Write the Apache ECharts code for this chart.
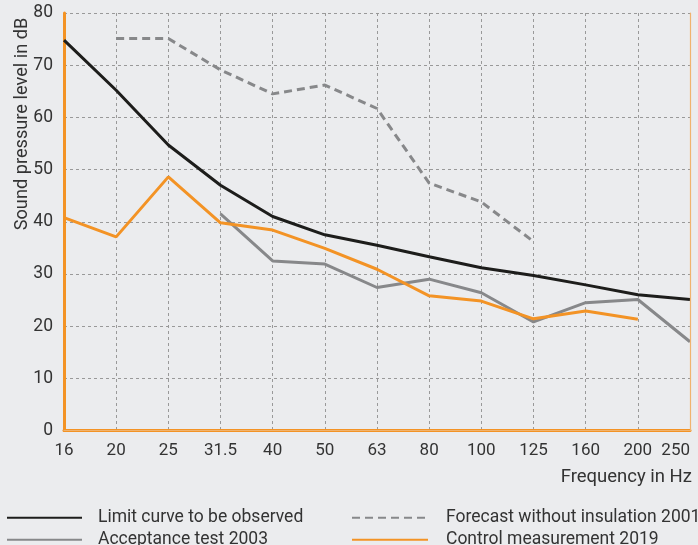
<!DOCTYPE html>
<html><head><meta charset="utf-8">
<script src="https://cdn.jsdelivr.net/npm/echarts@6/dist/echarts.min.js"></script>
<style>html,body{margin:0;padding:0;background:#ebecee;}#c{width:698px;height:545px;}</style>
</head><body><div id="c"></div>
<script>
const categories = ['16','20','25','31.5','40','50','63','80','100','125','160','200','250'];
const limitCurve = [74.8, 65.2, 54.7, 47.0, 41.0, 37.5, 35.5, 33.3, 31.2, 29.7, 27.9, 26.0, 25.1];
const forecast2001 = [null, 75.1, 75.1, 69.1, 64.5, 66.2, 61.7, 47.4, 43.8, 36.2, null, null, null];
const acceptance2003 = [null, null, null, 41.5, 32.5, 31.9, 27.4, 29.0, 26.4, 20.8, 24.5, 25.1, 17.0];
const control2019 = [40.8, 37.1, 48.6, 39.8, 38.4, 34.9, 30.9, 25.8, 24.8, 21.4, 22.9, 21.3, null];
const yTicks = {min: 0, max: 80, interval: 10};

const FONT = 'Roboto';
const TXT = '#333333';
const ORANGE = '#f39325';

const chart = echarts.init(document.getElementById('c'), null, {renderer: 'canvas'});
chart.setOption({
  backgroundColor: '#ebecee',
  animation: false,
  textStyle: {fontFamily: FONT},
  grid: {left: 64, right: 8, top: 13, bottom: 114.5, show: false},
  xAxis: [{
    type: 'category', data: categories, boundaryGap: false,
    axisLine: {show: true, lineStyle: {color: ORANGE, width: 3}},
    axisTick: {show: false},
    axisLabel: {color: TXT, fontSize: 17, fontFamily: FONT, margin: 12, interval: 0, alignMaxLabel: 'right'},
    splitLine: {show: true, interval: 0, lineStyle: {color: '#999999', type: [3, 3], width: 1}},
    z: 3
  }, {
    type: 'category', data: categories, boundaryGap: false, position: 'top',
    axisLine: {show: true, lineStyle: {color: '#f0b36e', width: 1.2}},
    axisTick: {show: false}, axisLabel: {show: false}, splitLine: {show: false}, z: 10
  }],
  yAxis: [{
    type: 'value', min: yTicks.min, max: yTicks.max, interval: yTicks.interval,
    axisLine: {show: true, lineStyle: {color: ORANGE, width: 3}},
    axisTick: {show: false},
    axisLabel: {color: TXT, fontSize: 17.5, fontFamily: FONT, margin: 11},
    splitLine: {show: true, lineStyle: {color: '#999999', type: [3, 3], width: 1}},
    z: 4
  }, {
    type: 'value', min: yTicks.min, max: yTicks.max, interval: yTicks.interval, position: 'right',
    axisLine: {show: true, lineStyle: {color: '#f0b36e', width: 1.2}},
    axisTick: {show: false}, axisLabel: {show: false}, splitLine: {show: false}, z: 10
  }],
  legend: [{
    orient: 'vertical', left: 6, top: 508.7, height: 60, padding: 0, itemWidth: 75, itemHeight: 14, itemGap: 4,
    itemStyle: {opacity: 0},
    data: ['Limit curve to be observed', 'Acceptance test 2003'],
    textStyle: {color: TXT, fontSize: 17.5, lineHeight: 16, fontFamily: FONT, padding: [0, 0, 0, 11]}
  }, {
    orient: 'vertical', left: 351, top: 508.7, height: 60, padding: 0, itemWidth: 76, itemHeight: 14, itemGap: 4,
    itemStyle: {opacity: 0},
    data: ['Forecast without insulation 2001', 'Control measurement 2019'],
    textStyle: {color: TXT, fontSize: 17.5, lineHeight: 16, fontFamily: FONT, padding: [0, 0, 0, 13]}
  }],
  graphic: [{
    type: 'text', x: 22, y: 124, rotation: Math.PI / 2,
    style: {text: 'Sound pressure level in dB', fill: TXT, fontSize: 18.2, fontFamily: FONT, align: 'center', verticalAlign: 'middle'}
  }, {
    type: 'text', right: 6, top: 468,
    style: {text: 'Frequency in Hz', fill: TXT, fontSize: 18.5, fontFamily: FONT}
  }],
  series: [{
    name: 'Limit curve to be observed', type: 'line', data: limitCurve, symbol: 'none',
    lineStyle: {color: '#1d1d1b', width: 3}, itemStyle: {color: '#1d1d1b'}, z: 5
  }, {
    name: 'Forecast without insulation 2001', type: 'line', data: forecast2001, symbol: 'none',
    lineStyle: {color: '#87888a', width: 3, type: [8, 5]}, itemStyle: {color: '#87888a'}, z: 4
  }, {
    name: 'Acceptance test 2003', type: 'line', data: acceptance2003, symbol: 'none',
    lineStyle: {color: '#87888a', width: 3}, itemStyle: {color: '#87888a'}, z: 4
  }, {
    name: 'Control measurement 2019', type: 'line', data: control2019, symbol: 'none',
    lineStyle: {color: ORANGE, width: 3}, itemStyle: {color: ORANGE}, z: 4
  }]
});
</script></body></html>
